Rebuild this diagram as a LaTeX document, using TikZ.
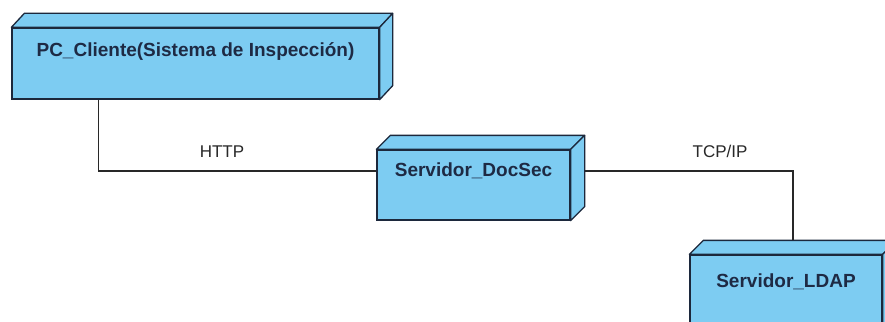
\documentclass[tikz,border=0pt]{standalone}
\usepackage{fontspec}
\setmainfont{Liberation Sans}
\definecolor{nodefill}{RGB}{125,204,242}
\definecolor{nodeline}{RGB}{28,40,60}
\definecolor{nodetext}{RGB}{30,42,68}
\definecolor{wire}{RGB}{40,40,40}
\tikzset{
  devbox/.style={draw=nodeline, fill=nodefill, line width=1.3pt, rectangle, inner sep=0pt},
  devface/.style={draw=nodeline, fill=nodefill, line width=1.3pt, line join=round},
  devname/.style={anchor=base, text=nodetext, font=\fontsize{19}{21}\selectfont\bfseries, inner sep=0pt},
  wirelabel/.style={anchor=base, text=wire, font=\fontsize{17}{19}\selectfont, inner sep=0pt},
  wireline/.style={draw=wire, line width=1.1pt}
}
% top and side faces of a 3D deployment node, depth (dx,dy)
\newcommand{\devdepth}[3]{%
  \draw[devface] (#1.north west) -- ++(#2,-#3) -- ([xshift=#2pt,yshift=#3pt]#1.north east) -- (#1.north east) -- cycle;
  \draw[devface] (#1.north east) -- ++(#2,-#3) -- ([xshift=#2pt,yshift=#3pt]#1.south east) -- (#1.south east) -- cycle;
}
\begin{document}
\begin{tikzpicture}[x=1pt,y=-1pt]
\fill[white] (0,0) rectangle (885,321);
\useasboundingbox (0,0) rectangle (885,321);

% PC_Cliente
\node[devbox, minimum width=367pt, minimum height=71pt] (pc) at (195.5,63.5) {};
\devdepth{pc}{13}{14}
\node[devname] (pcname) at ([yshift=-29pt]pc.north) {PC\_Cliente(Sistema de Inspección)};

% Servidor_DocSec
\node[devbox, minimum width=193pt, minimum height=70pt] (doc) at (473.5,185) {};
\devdepth{doc}{14}{14}
\node[devname] (docname) at ([yshift=-27pt]doc.north) {Servidor\_DocSec};

% Servidor_LDAP
\node[devbox, minimum width=192pt, minimum height=80pt] (ldap) at (786,295) {};
\devdepth{ldap}{14}{14}
\node[devname] (ldapname) at ([yshift=-33pt]ldap.north) {Servidor\_LDAP};

% connectors
\draw[wireline] ([xshift=87pt]pc.south west) |- ([yshift=14pt]doc.west);
\draw[wireline] ([xshift=14pt,yshift=14pt]doc.east) -| ([xshift=7pt,yshift=14pt]ldap.north);

\node[wirelabel] (http) at (222,157) {HTTP};
\node[wirelabel] (tcp) at (720,157) {TCP/IP};
\end{tikzpicture}
\end{document}
